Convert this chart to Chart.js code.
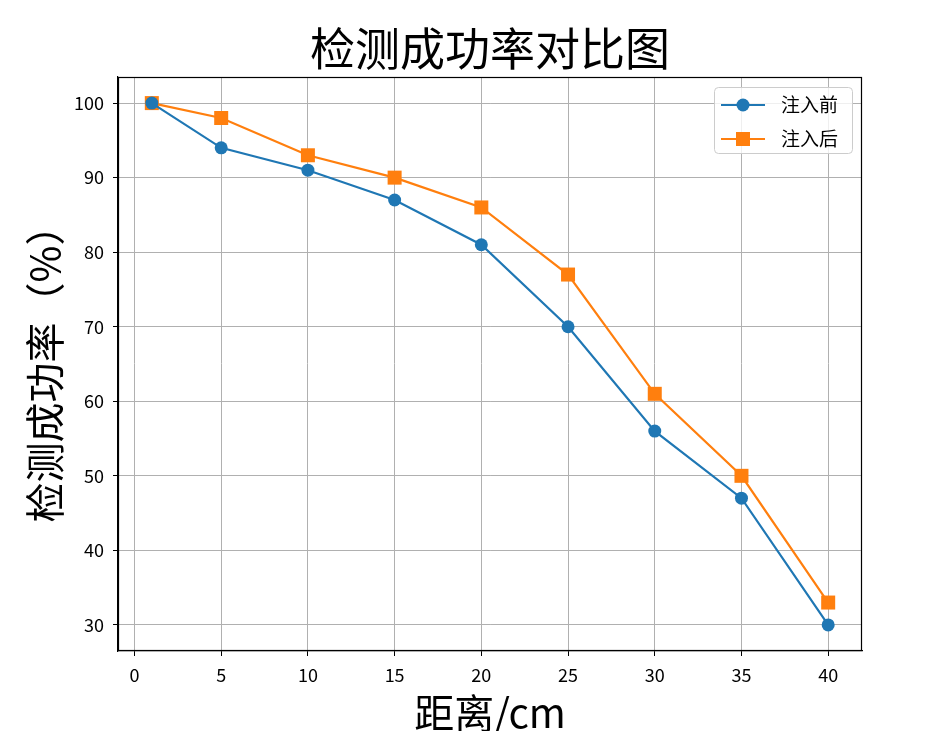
<!DOCTYPE html>
<html>
<head>
<meta charset="utf-8">
<script src="https://cdn.jsdelivr.net/npm/chart.js@4.4.0/dist/chart.umd.min.js"></script>
<style>
  html, body { margin: 0; padding: 0; background: #ffffff; }
  #wrap { width: 945px; height: 731px; }
</style>
</head>
<body>
<div id="wrap"><canvas id="c" width="945" height="731"></canvas></div>
<script>
const distances = [1, 5, 10, 15, 20, 25, 30, 35, 40];
const beforeValues = [100, 94, 91, 87, 81, 70, 56, 47, 30];
const afterValues = [100, 98, 93, 90, 86, 77, 61, 50, 33];
const xTickValues = [0, 5, 10, 15, 20, 25, 30, 35, 40];
const yTickValues = [30, 40, 50, 60, 70, 80, 90, 100];
const seriesNames = ['注入前', '注入后'];
const titleText = '检测成功率对比图';
const xTitleText = '距离/cm';
const yTitleText = '检测成功率（%）';

const FONT = "'Noto Sans CJK SC', 'Noto Sans', sans-serif";
const BLUE = '#1f77b4';
const ORANGE = '#ff7f0e';

const frameAndLegend = {
  id: 'frameAndLegend',
  afterDraw(chart) {
    const ctx = chart.ctx;
    const a = chart.chartArea;
    ctx.save();
    ctx.strokeStyle = '#000000';
    ctx.lineWidth = 1.2;
    ctx.strokeRect(Math.round(a.left) + 0.5, Math.round(a.top) + 0.5,
                   Math.round(a.right - a.left) - 1, Math.round(a.bottom - a.top) - 1);

    // legend inside upper right
    const bw = 138, bh = 66;
    const bx = a.right - 10 - bw, by = a.top + 10;
    ctx.beginPath();
    if (ctx.roundRect) ctx.roundRect(bx + 0.5, by + 0.5, bw, bh, 4); else ctx.rect(bx + 0.5, by + 0.5, bw, bh);
    ctx.fillStyle = 'rgba(255,255,255,0.8)';
    ctx.fill();
    ctx.strokeStyle = '#cccccc';
    ctx.lineWidth = 1;
    ctx.stroke();
    chart.data.datasets.forEach((ds, i) => {
      const cy = by + 18 + i * 34;
      ctx.strokeStyle = ds.borderColor;
      ctx.lineWidth = 2.2;
      ctx.beginPath();
      ctx.moveTo(bx + 7, cy);
      ctx.lineTo(bx + 51, cy);
      ctx.stroke();
      ctx.fillStyle = ds.borderColor;
      if (ds.pointStyle === 'rect') {
        ctx.fillRect(bx + 29 - 7, cy - 7, 14, 14);
      } else {
        ctx.beginPath();
        ctx.arc(bx + 29, cy, 6.5, 0, Math.PI * 2);
        ctx.fill();
      }
      ctx.fillStyle = '#000000';
      ctx.font = '19px ' + FONT;
      ctx.textBaseline = 'middle';
      ctx.textAlign = 'left';
      ctx.fillText(ds.label, bx + 67, cy);
    });
    ctx.restore();
  }
};

new Chart(document.getElementById('c'), {
  type: 'line',
  data: {
    datasets: [
      {
        label: seriesNames[0],
        data: distances.map((d, i) => ({ x: d, y: beforeValues[i] })),
        borderColor: BLUE,
        backgroundColor: BLUE,
        borderWidth: 2.2,
        pointStyle: 'circle',
        pointRadius: 6.5,
        pointBorderWidth: 0,
        pointHoverRadius: 6.5,
        tension: 0
      },
      {
        label: seriesNames[1],
        data: distances.map((d, i) => ({ x: d, y: afterValues[i] })),
        borderColor: ORANGE,
        backgroundColor: ORANGE,
        borderWidth: 2.2,
        pointStyle: 'rect',
        pointRadius: 9.9,
        pointBorderWidth: 0,
        pointHoverRadius: 9.9,
        tension: 0
      }
    ]
  },
  options: {
    responsive: false,
    animation: false,
    devicePixelRatio: 1,
    layout: { padding: { left: 0, right: 83, top: 0, bottom: 0 } },
    plugins: {
      legend: { display: false },
      tooltip: { enabled: false },
      title: {
        display: true,
        text: titleText,
        fullSize: false,
        color: '#000000',
        font: { family: FONT, size: 45, weight: 'normal', lineHeight: 1 },
        padding: { top: 26, bottom: 6 }
      }
    },
    scales: {
      x: {
        type: 'linear',
        min: -0.95,
        max: 41.95,
        afterBuildTicks(scale) { scale.ticks = xTickValues.map(v => ({ value: v })); },
        afterFit(scale) { scale.height = 80; },
        ticks: { color: '#000000', font: { family: FONT, size: 18 }, padding: 8, callback: v => String(v) },
        grid: { color: '#b0b0b0', lineWidth: 1, tickColor: '#000000', tickLength: 5, drawTicks: true },
        border: { display: true, color: '#000000', width: 1.2 },
        title: {
          display: true, text: xTitleText, color: '#000000',
          font: { family: FONT, size: 40, lineHeight: 1 },
          padding: { top: 0, bottom: -2 }
        }
      },
      y: {
        type: 'linear',
        min: 26.5,
        max: 103.5,
        afterBuildTicks(scale) { scale.ticks = yTickValues.map(v => ({ value: v })); },
        afterFit(scale) { scale.width = 118; },
        ticks: { color: '#000000', font: { family: FONT, size: 18 }, padding: 9, callback: v => String(v) },
        grid: { color: '#b0b0b0', lineWidth: 1, tickColor: '#000000', tickLength: 5, drawTicks: true },
        border: { display: true, color: '#000000', width: 1.2 },
        title: {
          display: true, text: yTitleText, color: '#000000',
          font: { family: FONT, size: 40, lineHeight: 1 },
          padding: { top: 25, bottom: 0 }
        }
      }
    }
  },
  plugins: [frameAndLegend]
});
</script>
</body>
</html>
